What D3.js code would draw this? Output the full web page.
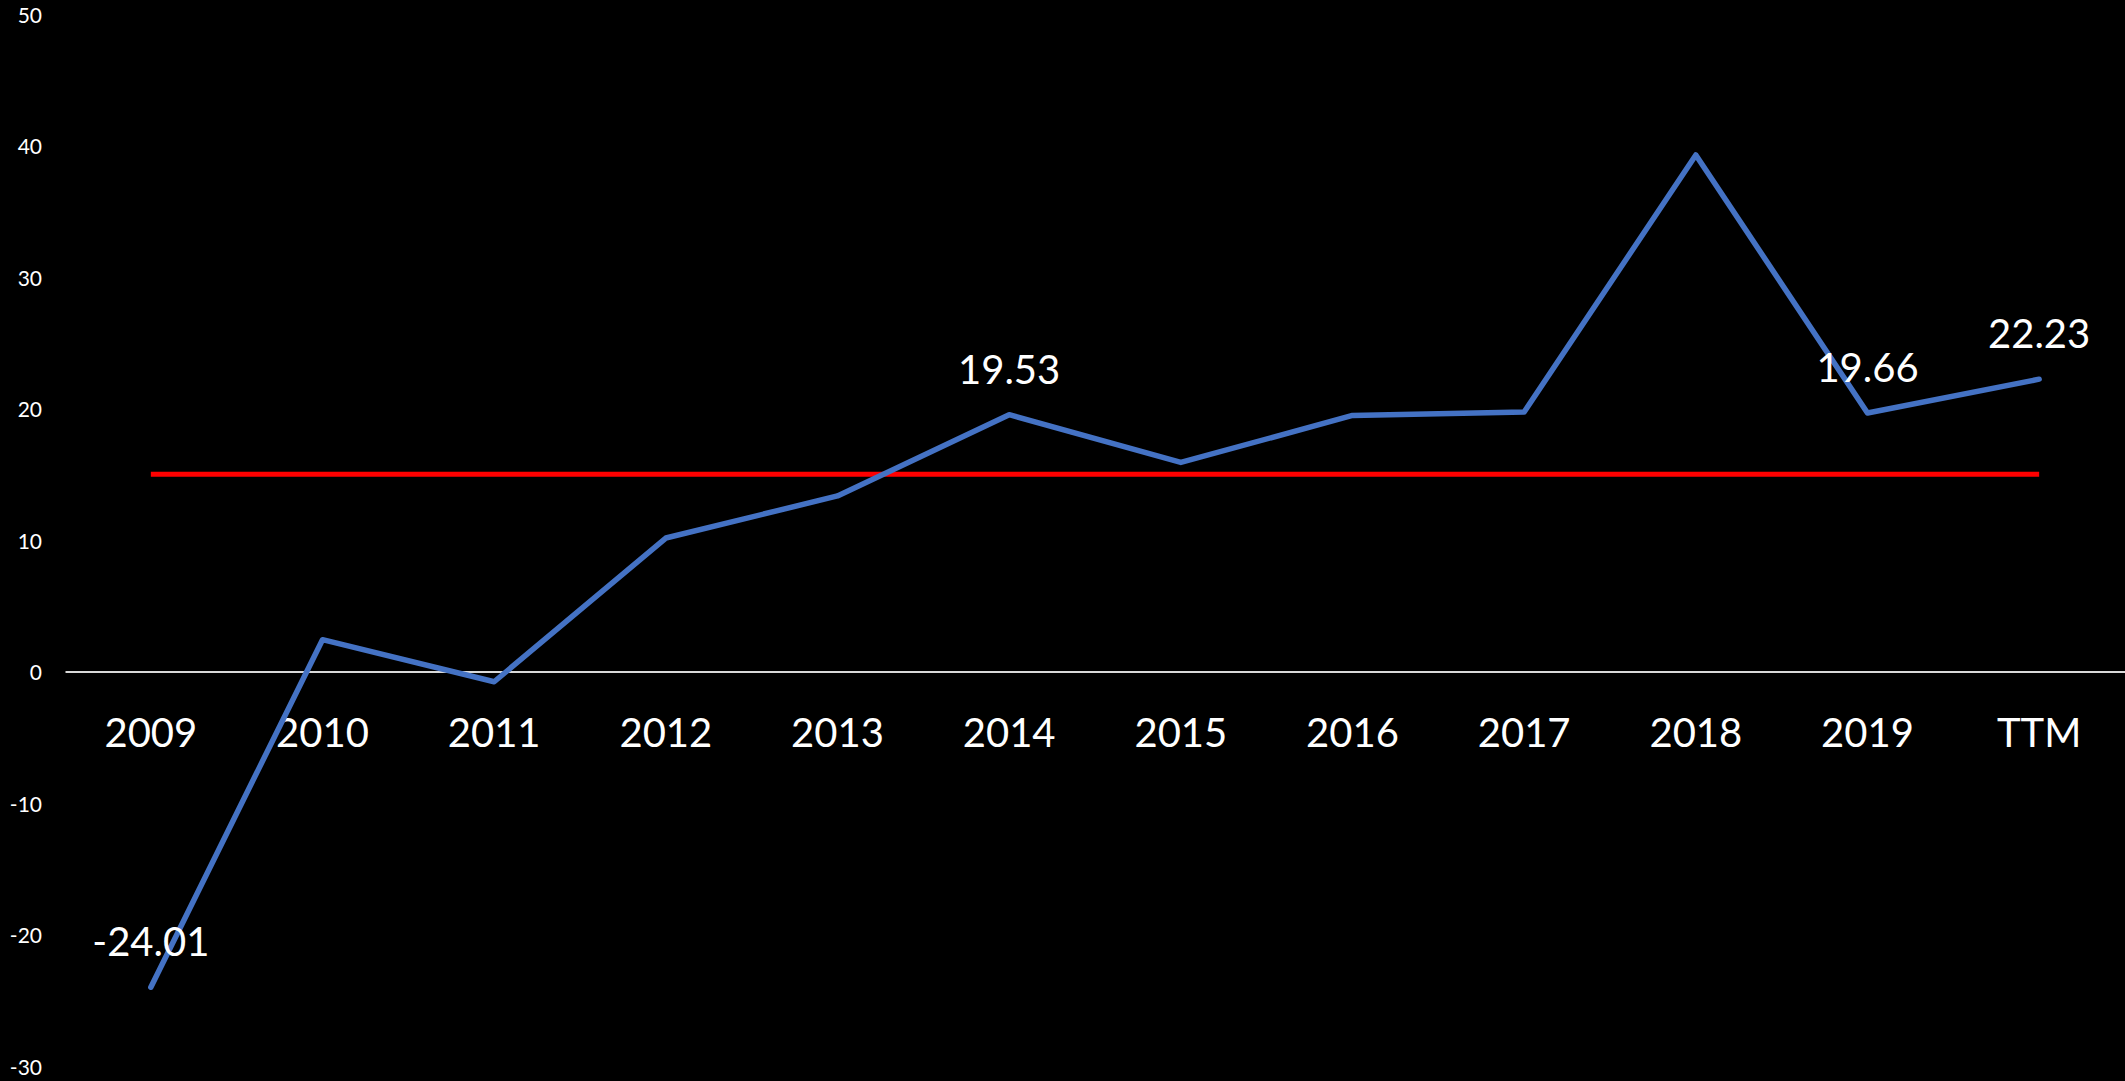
<!DOCTYPE html>
<html>
<head>
<meta charset="utf-8">
<script src="https://cdn.jsdelivr.net/npm/d3@7"></script>
<style>
html, body { margin: 0; padding: 0; background: #000; }
svg { display: block; }
</style>
</head>
<body>
<svg id="chart" width="2125" height="1081"></svg>
<script>
const categories = ["2009","2010","2011","2012","2013","2014","2015","2016","2017","2018","2019","TTM"];
const seriesValues = [-24.01, 2.42, -0.78, 10.15, 13.35, 19.53, 15.9, 19.47, 19.73, 39.28, 19.66, 22.23];
const benchmarkValues = [15, 15, 15, 15, 15, 15, 15, 15, 15, 15, 15, 15];
const labelledCategories = ["2009", "2014", "2019", "TTM"];
const yTicks = [-30, -20, -10, 0, 10, 20, 30, 40, 50];

const W = 2125, H = 1081;
const svg = d3.select("#chart");
const font = "Lato, 'Open Sans', sans-serif";

const x = d3.scaleBand().domain(categories).range([65, 2125]);
const cx = c => x(c) + x.bandwidth() / 2;
const y = d3.scaleLinear().domain([-30, 50]).range([1066, 14]);

// y axis labels
const yAxis = d3.axisLeft(y).tickValues(yTicks).tickSize(0).tickPadding(0).tickFormat(d => String(d));
const yg = svg.append("g").attr("transform", "translate(42,1.5)").call(yAxis);
yg.select(".domain").remove();
yg.selectAll("text").attr("fill", "#fff").style("font-family", font).style("font-size", "21px");

// zero axis line with category labels
const xAxis = d3.axisBottom(x).tickSize(0).tickPadding(0);
const xg = svg.append("g").attr("transform", `translate(0,${y(0)})`).call(xAxis);
xg.select(".domain").attr("stroke", "#d9d9d9").attr("stroke-width", 2);
xg.selectAll("text").attr("fill", "#fff").attr("dy", null).attr("y", 75)
  .style("font-family", font).style("font-size", "40px");

// benchmark red line
const line = d3.line().x((d, i) => cx(categories[i])).y(d => y(d));
svg.append("path").datum(benchmarkValues).attr("d", line)
  .attr("fill", "none").attr("stroke", "#ff0000").attr("stroke-width", 5);

// series line
svg.append("path").datum(seriesValues).attr("d", line)
  .attr("fill", "none").attr("stroke", "#4472c4").attr("stroke-width", 5.5)
  .attr("stroke-linejoin", "round").attr("stroke-linecap", "round");

// data labels
const labelled = categories.map((c, i) => ({c, v: seriesValues[i]})).filter(d => labelledCategories.includes(d.c));
svg.selectAll("text.dl").data(labelled).enter().append("text")
  .attr("class", "dl")
  .attr("x", d => cx(d.c)).attr("y", d => y(d.v) - 31)
  .attr("text-anchor", "middle").attr("fill", "#fff")
  .style("font-family", font).style("font-size", "40px")
  .text(d => d.v.toFixed(2));
</script>
</body>
</html>
